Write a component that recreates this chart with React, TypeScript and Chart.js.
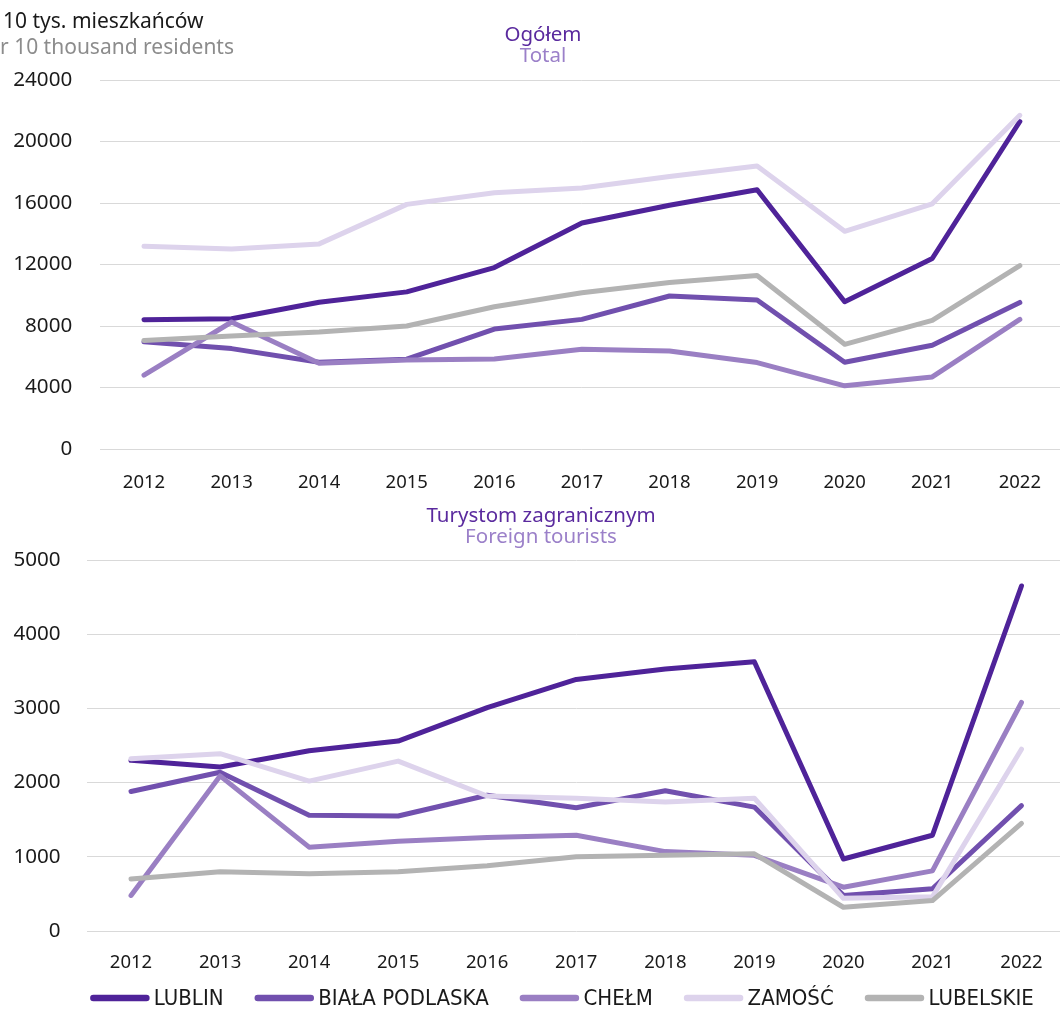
import React, { useEffect, useRef } from "react";
import { Chart, registerables } from "chart.js";

Chart.register(...registerables);

const years = ["2012", "2013", "2014", "2015", "2016", "2017", "2018", "2019", "2020", "2021", "2022"];
const seriesNames = ["LUBLIN", "BIAŁA PODLASKA", "CHEŁM", "ZAMOŚĆ", "LUBELSKIE"];
const seriesColors = ["#4f2399", "#7150ae", "#9a7fc3", "#ddd3ec", "#b3b3b3"];

// Ogółem / Total (per 10 thousand residents)
const lublinTotal = [8410, 8470, 9550, 10220, 11800, 14700, 15850, 16860, 9580, 12390, 21300];
const bialaTotal = [6980, 6530, 5640, 5840, 7800, 8430, 9950, 9690, 5640, 6750, 9530];
const chelmTotal = [4800, 8260, 5580, 5790, 5860, 6490, 6380, 5620, 4110, 4690, 8430];
const zamoscTotal = [13190, 13010, 13340, 15910, 16670, 16970, 17730, 18400, 14160, 15950, 21700];
const lubelskieTotal = [7050, 7350, 7610, 8000, 9250, 10160, 10830, 11290, 6810, 8370, 11930];

// Turystom zagranicznym / Foreign tourists
const lublinForeign = [2300, 2210, 2430, 2560, 3010, 3390, 3530, 3630, 970, 1290, 4650];
const bialaForeign = [1880, 2140, 1560, 1550, 1830, 1660, 1890, 1670, 480, 570, 1690];
const chelmForeign = [480, 2090, 1130, 1210, 1260, 1290, 1070, 1020, 590, 810, 3080];
const zamoscForeign = [2320, 2390, 2020, 2290, 1820, 1790, 1740, 1790, 440, 460, 2450];
const lubelskieForeign = [700, 800, 770, 800, 880, 1000, 1020, 1040, 320, 410, 1450];

const totalTicks = [0, 4000, 8000, 12000, 16000, 20000, 24000];
const foreignTicks = [0, 1000, 2000, 3000, 4000, 5000];

const FONT = "'Noto Sans', 'Open Sans', sans-serif";
const LEGEND_FONT = "'DejaVu Sans Condensed', 'Liberation Sans Narrow', 'DejaVu Sans', sans-serif";

function makeDatasets(values: number[][]) {
  return values.map((v, i) => ({
    label: seriesNames[i],
    data: v,
    borderColor: seriesColors[i],
    backgroundColor: seriesColors[i],
    borderWidth: 5,
    borderCapStyle: "round" as const,
    borderJoinStyle: "round" as const,
    pointRadius: 0,
    pointHoverRadius: 0,
    tension: 0,
    fill: false,
    order: values.length - i,
  }));
}

function titlePlugin(id: string, x: number, y1: number, y2: number, t1: string, t2: string, extra?: boolean) {
  return {
    id,
    afterDraw(chart: any) {
      const ctx = chart.ctx;
      ctx.save();
      ctx.font = `20.5px ${FONT}`;
      ctx.textAlign = "center";
      ctx.textBaseline = "middle";
      ctx.fillStyle = "#5a2a9e";
      ctx.fillText(t1, x, y1);
      ctx.fillStyle = "#9b80c9";
      ctx.fillText(t2, x, y2);
      if (extra) {
        ctx.font = `21px ${FONT}`;
        ctx.textAlign = "left";
        ctx.fillStyle = "#1a1a1a";
        const a = "Na 10 tys. mieszkańców";
        const b = "Per 10 thousand residents";
        const xa = 3 - ctx.measureText("Na ").width;
        const xb = 0 - ctx.measureText("Pe").width;
        ctx.fillText(a, xa, 22);
        ctx.fillStyle = "#8c8c8c";
        ctx.fillText(b, xb, 48);
      }
      ctx.restore();
    },
  };
}

const legendPlugin = {
  id: "lineLegend",
  afterDraw(chart: any) {
    const ctx = chart.ctx;
    const datasets = chart.data.datasets;
    const lineLen = 53;
    const cap = 3.25;
    const textGap = 7.5;
    const itemGap = 31;
    const centerX = 562;
    const y = 508;
    ctx.save();
    ctx.font = `22px ${LEGEND_FONT}`;
    const widths = datasets.map((d: any) => ctx.measureText(d.label).width);
    let total = 0;
    widths.forEach((w: number, i: number) => {
      total += cap + lineLen + textGap + w + (i < widths.length - 1 ? itemGap : 0);
    });
    let x = centerX - total / 2;
    datasets.forEach((d: any, i: number) => {
      const x0 = x + cap;
      ctx.beginPath();
      ctx.lineCap = "round";
      ctx.lineWidth = 6.5;
      ctx.strokeStyle = d.borderColor;
      ctx.moveTo(x0, y);
      ctx.lineTo(x0 + lineLen, y);
      ctx.stroke();
      ctx.fillStyle = "#1a1a1a";
      ctx.textAlign = "left";
      ctx.textBaseline = "middle";
      ctx.fillText(d.label, x0 + lineLen + textGap, y + 1);
      x = x0 + lineLen + textGap + widths[i] + itemGap;
    });
    ctx.restore();
  },
};

function TopChart() {
  const ref = useRef<HTMLCanvasElement>(null);
  useEffect(() => {
    const chart = new Chart(ref.current!, {
      type: "line",
      data: {
        labels: years,
        datasets: makeDatasets([lublinTotal, bialaTotal, chelmTotal, zamoscTotal, lubelskieTotal]),
      },
      options: {
        animation: false,
        responsive: false,
        devicePixelRatio: 1,
        layout: { padding: { top: 80, left: 0, right: 0, bottom: 0 } },
        plugins: { legend: { display: false }, tooltip: { enabled: false }, title: { display: false } },
        scales: {
          x: {
            offset: true,
            grid: { display: false, drawTicks: false },
            border: { display: false },
            ticks: { color: "#1a1a1a", font: { family: FONT, size: 18.5 }, padding: 23, maxRotation: 0, autoSkip: false },
            afterFit: (s: any) => { s.height = 51; },
          },
          y: {
            min: 0,
            max: 24000,
            afterBuildTicks: (s: any) => { s.ticks = totalTicks.map((v) => ({ value: v })); },
            grid: { color: "#d9d9d9", lineWidth: 1, drawTicks: false },
            border: { display: false },
            ticks: { color: "#1a1a1a", font: { family: FONT, size: 20.6 }, padding: 28, callback: (v: any) => String(v) },
            afterFit: (s: any) => { s.width = 100.2; },
          },
        },
      },
      plugins: [titlePlugin("topTitles", 543, 35, 56, "Ogółem", "Total", true)],
    } as any);
    return () => chart.destroy();
  }, []);
  return (
    <canvas
      ref={ref}
      width={1064}
      height={500}
      style={{ position: "absolute", left: 0, top: 0, width: 1064, height: 500 }}
    />
  );
}

function BottomChart() {
  const ref = useRef<HTMLCanvasElement>(null);
  useEffect(() => {
    const chart = new Chart(ref.current!, {
      type: "line",
      data: {
        labels: years,
        datasets: makeDatasets([lublinForeign, bialaForeign, chelmForeign, zamoscForeign, lubelskieForeign]),
      },
      options: {
        animation: false,
        responsive: false,
        devicePixelRatio: 1,
        layout: { padding: { top: 70, left: 0, right: 0, bottom: 0 } },
        plugins: {
          tooltip: { enabled: false },
          title: { display: false },
          legend: { display: false },
        },
        scales: {
          x: {
            offset: true,
            grid: { display: false, drawTicks: false },
            border: { display: false },
            ticks: { color: "#1a1a1a", font: { family: FONT, size: 18.5 }, padding: 20.5, maxRotation: 0, autoSkip: false },
            afterFit: (s: any) => { s.height = 88; },
          },
          y: {
            min: 0,
            max: 5000,
            afterBuildTicks: (s: any) => { s.ticks = foreignTicks.map((v) => ({ value: v })); },
            grid: { color: "#d9d9d9", lineWidth: 1, drawTicks: false },
            border: { display: false },
            ticks: { color: "#1a1a1a", font: { family: FONT, size: 20.6 }, padding: 26, callback: (v: any) => String(v) },
            afterFit: (s: any) => { s.width = 86.5; },
          },
        },
      },
      plugins: [titlePlugin("bottomTitles", 541, 26, 47, "Turystom zagranicznym", "Foreign tourists"), legendPlugin],
    } as any);
    return () => chart.destroy();
  }, []);
  return (
    <canvas
      ref={ref}
      width={1066}
      height={529}
      style={{ position: "absolute", left: 0, top: 490, width: 1066, height: 529 }}
    />
  );
}

export default function App() {
  return (
    <div
      style={{
        position: "absolute",
        left: 0,
        top: 0,
        width: 1060,
        height: 1010,
        overflow: "hidden",
        background: "#ffffff",
      }}
    >
      <TopChart />
      <BottomChart />
    </div>
  );
}
